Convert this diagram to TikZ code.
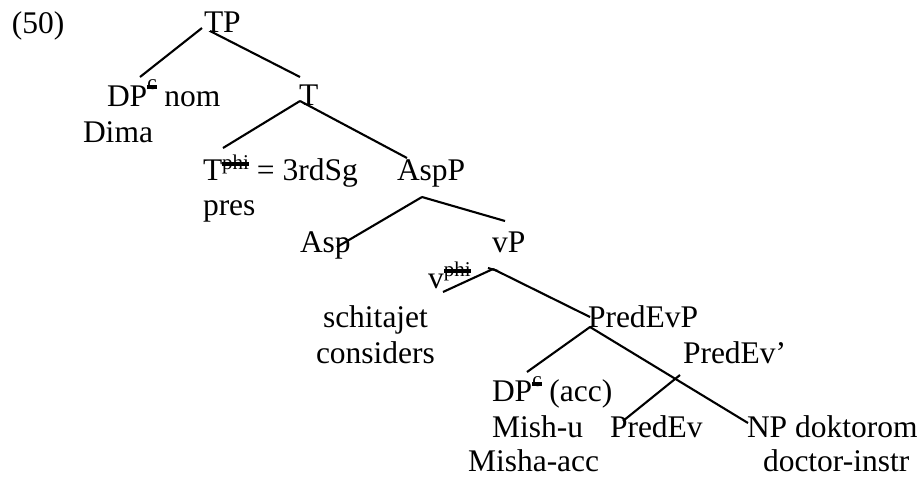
\documentclass[tikz,border=0pt]{standalone}
\usepackage{fontspec}
\setmainfont{Liberation Serif}
% struck-through superscript: #1 raise, #2 bar height above its baseline, #3 text
\newcommand{\strsup}[3]{\raisebox{#1}{\fontsize{21}{21}\selectfont\setbox0=\hbox{#3}\rlap{\rule[#2]{\wd0}{4pt}}\box0}}
\begin{document}
\begin{tikzpicture}[x=1pt,y=-1pt,
  lbl/.style={anchor=base west,inner sep=0pt,outer sep=0pt,font=\fontsize{31.5}{36}\selectfont},
  branch/.style={line width=2.1pt}]
\useasboundingbox (0,0) rectangle (922,477);
% labels
\node[lbl] (ex)    at (12,33)  {(50)};
\node[lbl] (tp)    at (204,32) {TP};
\node[lbl] (dpnom) at (107,106) {DP\strsup{17pt}{0.5pt}{c} nom};
\node[lbl] (dima)  at (83,142) {Dima};
\node[lbl] (t)     at (299,105) {T};
\node[lbl] (tphi)  at (203,180) {T\strsup{11pt}{3.5pt}{phi} = 3rdSg};
\node[lbl] (pres)  at (203,215) {pres};
\node[lbl] (aspp)  at (397,180) {AspP};
\node[lbl] (asp)   at (300,252) {Asp};
\node[lbl] (vp)    at (492,252) {vP};
\node[lbl] (vphi)  at (428,288) {v\strsup{12pt}{3.5pt}{phi}};
\node[lbl] (schit) at (323,327) {schitajet};
\node[lbl] (cons)  at (316,363) {considers};
\node[lbl] (pep)   at (588,327) {PredEvP};
\node[lbl] (pebar) at (683,363) {PredEv'};
\node[lbl] (dpacc) at (492,401) {DP\strsup{15pt}{0.5pt}{c} (acc)};
\node[lbl] (mishu) at (492,437) {Mish-u};
\node[lbl] (pe)    at (610,437) {PredEv};
\node[lbl] (np)    at (747,437) {NP doktorom};
\node[lbl] (misha) at (468,471) {Misha-acc};
\node[lbl] (doc)   at (763,471) {doctor-instr};
% branch points
\coordinate (tp-l)  at (202,28);
\coordinate (tp-r)  at (210,31);
\coordinate (dp-t)  at (140,77);
\coordinate (t-t)   at (300,77);
\coordinate (t-b)   at (300,101);
\coordinate (tphi-t) at (223,148);
\coordinate (aspp-t) at (407,158);
\coordinate (aspp-b) at (422,197);
\coordinate (asp-t)  at (337,247);
\coordinate (vp-t)   at (505,221);
\coordinate (vp-b)   at (493,269);
\coordinate (vphi-t) at (443,292);
\coordinate (pep-t)  at (590,317);
\coordinate (pep-b)  at (590,327);
\coordinate (dpacc-t) at (527,372);
\coordinate (np-t)   at (748,423);
\coordinate (pebar-b) at (680,375);
\coordinate (pe-t)   at (623,421);
\coordinate (tick-a) at (488,268);
\coordinate (tick-b) at (498,271);
% branches
\draw[branch] (tp-l) -- (dp-t);
\draw[branch] (tp-r) -- (t-t);
\draw[branch] (t-b) -- (tphi-t);
\draw[branch] (t-b) -- (aspp-t);
\draw[branch] (aspp-b) -- (asp-t);
\draw[branch] (aspp-b) -- (vp-t);
\draw[branch] (vp-b) -- (vphi-t);
\draw[branch] (vp-b) -- (pep-t);
\draw[branch] (tick-a) -- (tick-b);
\draw[branch] (pep-b) -- (dpacc-t);
\draw[branch] (pep-b) -- (np-t);
\draw[branch] (pebar-b) -- (pe-t);
\end{tikzpicture}
\end{document}
